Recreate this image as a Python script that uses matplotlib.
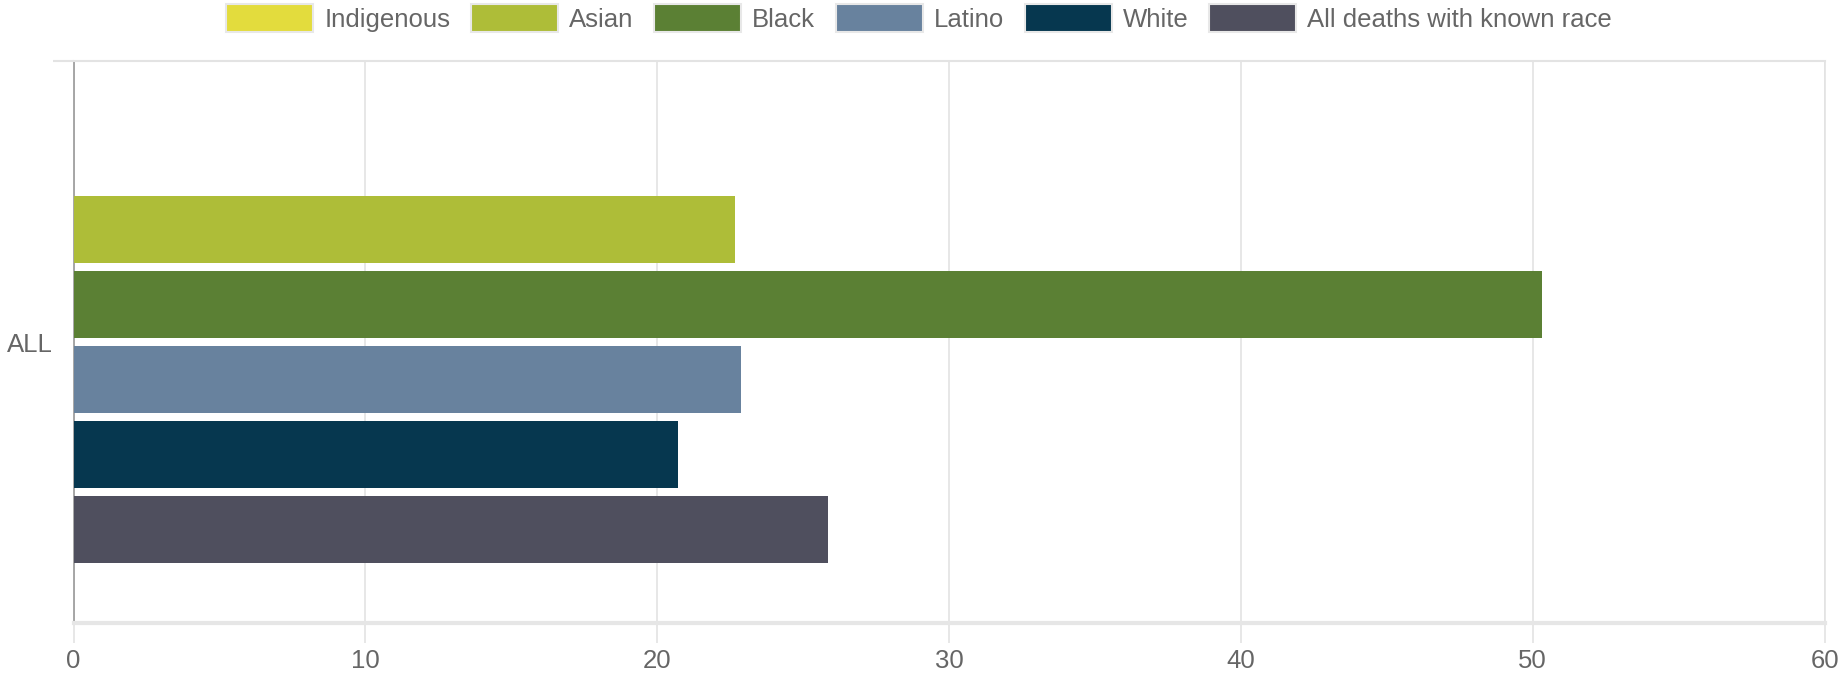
"""
Death rate by race - horizontal grouped bar (single category ALL)
"""
import matplotlib.pyplot as plt
import numpy as np

plt.rcParams['font.family'] = ['Liberation Sans', 'DejaVu Sans']

# data
categories = ['ALL']
series_names = ['Indigenous', 'Asian', 'Black', 'Latino', 'White', 'All deaths with known race']
series_values = [np.nan, 22.66, 50.3, 22.86, 20.7, 25.86]   # Indigenous: no bar shown
series_colors = ['#E3DC3D', '#AEBD38', '#5B8034', '#68829E', '#06374F', '#4F4F5E']
x_ticks = [0, 10, 20, 30, 40, 50, 60]

W, H = 1844, 681
fig = plt.figure(figsize=(W / 100, H / 100), dpi=100)
ax = fig.add_axes([73.5 / W, 1 - 623 / H, (1824.6 - 73.5) / W, (623 - 61) / H])

text_color = '#666666'
grid_color = '#e3e3e3'

# chart.js like layout: categoryPercentage 0.8, barPercentage 0.9
n = len(series_names)
slot = 0.8 / n
for i, (name, val, col) in enumerate(zip(series_names, series_values, series_colors)):
    y = np.arange(len(categories)) + (i - (n - 1) / 2) * slot
    ax.barh(y, [val], height=slot * 0.9, color=col, edgecolor='none',
            label=name, zorder=3)

ax.set_xlim(0, 60)
ax.set_ylim(0.5, -0.5)

# x axis
ax.set_xticks(x_ticks)
ax.set_xticklabels([str(t) for t in x_ticks], fontsize=18.5, color=text_color)
ax.tick_params(axis='x', length=14.5, width=1.2, color=grid_color, pad=4)
ax.grid(axis='x', color=grid_color, linewidth=1.2, zorder=0)

# y axis
ax.set_yticks(range(len(categories)))
ax.set_yticklabels(categories, fontsize=18.5, color=text_color)
ax.tick_params(axis='y', which='major', length=0, pad=15)
ax.set_yticks([-0.5], minor=True)
ax.tick_params(axis='y', which='minor', length=15, width=1.5, color=grid_color)

# spines
ax.spines['left'].set_color('#a0a0a0')
ax.spines['left'].set_linewidth(1.3)
ax.spines['top'].set_color(grid_color)
ax.spines['top'].set_linewidth(1.5)
ax.spines['bottom'].set_color('#e6e6e6')
ax.spines['bottom'].set_linewidth(3)
ax.spines['right'].set_color(grid_color)
ax.spines['right'].set_linewidth(1.2)

# legend on top
leg = fig.legend(loc='upper center', bbox_to_anchor=(919 / W, 1 - 4 / H), ncol=n,
                 frameon=False, fontsize=18.5, handlelength=3.4, handleheight=1.32,
                 handletextpad=0.42, columnspacing=0.8, borderaxespad=0, borderpad=0)
for t in leg.get_texts():
    t.set_color(text_color)
for h in leg.legend_handles:
    h.set_edgecolor('#e8e8e8')
    h.set_linewidth(1.5)

plt.savefig('out.png', dpi=100, facecolor='white')
plt.close()
